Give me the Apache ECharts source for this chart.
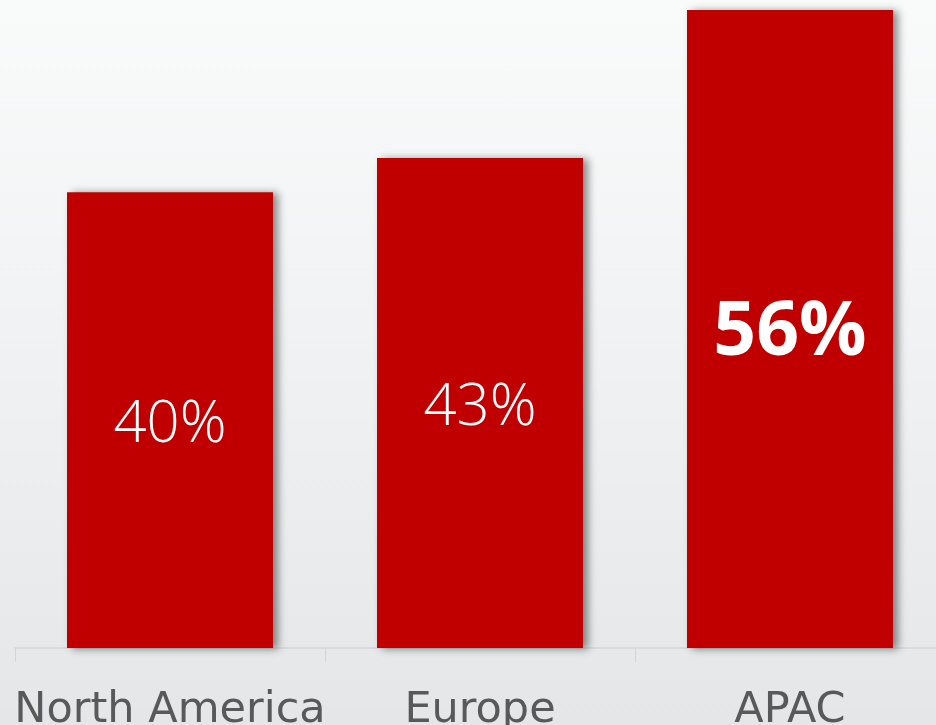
<!DOCTYPE html>
<html>
<head>
<meta charset="utf-8">
<script src="https://cdn.jsdelivr.net/npm/echarts@6/dist/echarts.min.js"></script>
<style>
  html, body { margin: 0; padding: 0; }
  body {
    width: 936px; height: 725px; overflow: hidden;
    background: linear-gradient(180deg, #f9fafa 0%, #f3f4f5 35%, #eceeef 65%, #e4e6e8 100%);
  }
  #chart { width: 936px; height: 725px; }
</style>
</head>
<body>
<div id="chart"></div>
<script>
// Share by region (%)
const regions = ['North America', 'Europe', 'APAC'];
const shares = [40, 43, 56];
const highlighted = ['APAC'];

const barRed = '#c00000';
const labelFont = '"DejaVu Sans", "Open Sans", sans-serif';
const valueFont = '"Open Sans", "DejaVu Sans", sans-serif';

const chart = echarts.init(document.getElementById('chart'), null, { renderer: 'canvas' });

const seriesData = regions.map((name, i) => {
  const strong = highlighted.includes(name);
  return {
    value: shares[i],
    label: strong
      ? { fontSize: 75, fontWeight: 'bold', fontFamily: valueFont }
      : { fontSize: 58, fontWeight: 300, fontFamily: valueFont }
  };
});

chart.setOption({
  backgroundColor: 'transparent',
  animation: false,
  grid: {
    left: 15, width: 930, top: 10, bottom: 77,
    containLabel: false,
    outerBoundsMode: 'none'
  },
  xAxis: {
    type: 'category',
    data: regions,
    axisLine: { show: true, lineStyle: { color: '#d3d5d7', width: 1.5 } },
    axisTick: { show: true, length: 14, lineStyle: { color: '#d3d5d7', width: 1 } },
    axisLabel: {
      color: '#595959',
      fontSize: 43,
      fontFamily: labelFont,
      margin: 41,
      interval: 0,
      hideOverlap: false
    },
    splitLine: { show: false }
  },
  yAxis: {
    type: 'value',
    min: 0,
    max: 56,
    show: false,
    splitLine: { show: false }
  },
  series: [{
    type: 'bar',
    data: seriesData,
    barWidth: 206,
    itemStyle: {
      color: barRed,
      shadowColor: 'rgba(0,0,0,0.45)',
      shadowBlur: 8,
      shadowOffsetX: 5,
      shadowOffsetY: 1
    },
    label: {
      show: true,
      position: 'inside',
      offset: [0, 5],
      color: '#ffffff',
      formatter: p => p.value + '%'
    }
  }]
});
</script>
</body>
</html>
